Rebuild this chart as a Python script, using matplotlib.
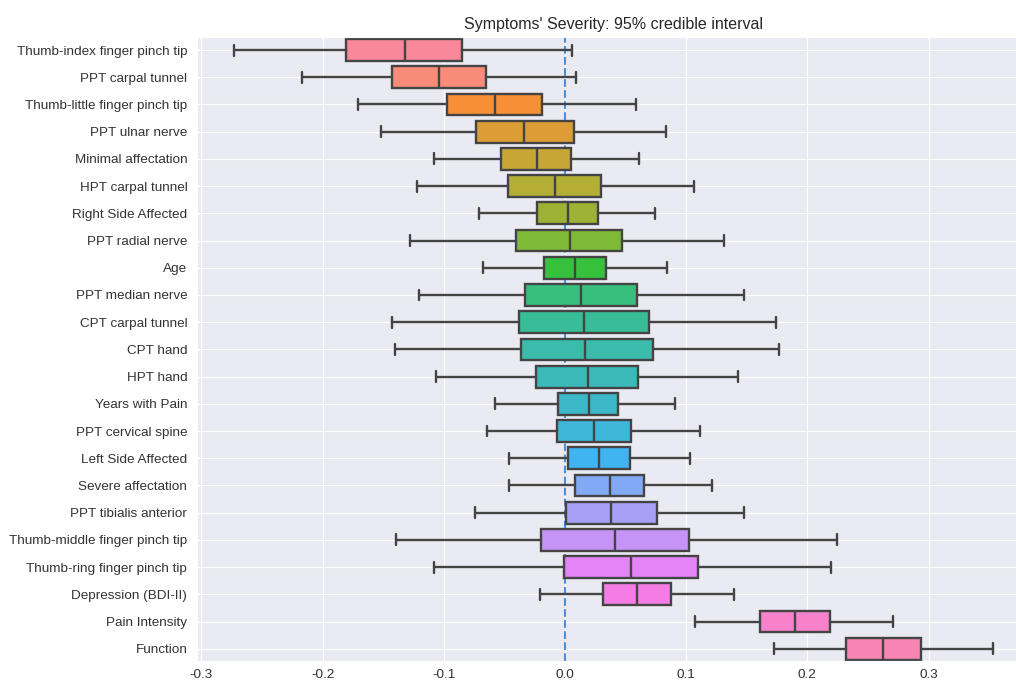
import matplotlib
matplotlib.use("Agg")
import matplotlib.pyplot as plt
import seaborn as sns

# values: whisker low, q1, median, q3, whisker high
labels = [
    "Thumb-index finger pinch tip", "PPT carpal tunnel", "Thumb-little finger pinch tip",
    "PPT ulnar nerve", "Minimal affectation", "HPT carpal tunnel", "Right Side Affected",
    "PPT radial nerve", "Age", "PPT median nerve", "CPT carpal tunnel", "CPT hand",
    "HPT hand", "Years with Pain", "PPT cervical spine", "Left Side Affected",
    "Severe affectation", "PPT tibialis anterior", "Thumb-middle finger pinch tip",
    "Thumb-ring finger pinch tip", "Depression (BDI-II)", "Pain Intensity", "Function",
]
whis_lo = [-0.273, -0.217, -0.171, -0.1515, -0.108, -0.1224, -0.0707, -0.1276, -0.068,
           -0.1205, -0.1427, -0.1405, -0.1064, -0.0575, -0.0646, -0.046, -0.0465,
           -0.0743, -0.1397, -0.108, -0.0209, 0.107, 0.1724]
q1 = [-0.181, -0.1425, -0.0974, -0.0734, -0.0528, -0.0467, -0.0231, -0.0401, -0.0175,
      -0.0327, -0.038, -0.0366, -0.0237, -0.006, -0.0069, 0.0028, 0.0085, 0.0008,
      -0.02, -0.001, 0.0316, 0.1612, 0.2316]
med = [-0.132, -0.104, -0.058, -0.0336, -0.0228, -0.0085, 0.0028, 0.004, 0.0085,
       0.0132, 0.0157, 0.0168, 0.019, 0.0195, 0.0242, 0.0278, 0.0371, 0.0377,
       0.041, 0.0545, 0.0597, 0.1895, 0.2626]
q3 = [-0.085, -0.065, -0.0187, 0.0077, 0.0052, 0.030, 0.0275, 0.0467, 0.0338,
      0.0597, 0.069, 0.0723, 0.0602, 0.0437, 0.0545, 0.0534, 0.0652, 0.0762,
      0.1026, 0.1097, 0.0872, 0.2184, 0.2935]
whis_hi = [0.006, 0.0088, 0.0586, 0.0833, 0.061, 0.1064, 0.074, 0.131, 0.0839,
           0.1477, 0.1738, 0.1763, 0.1425, 0.091, 0.1114, 0.1031, 0.121, 0.1477,
           0.2242, 0.2192, 0.1394, 0.2709, 0.3534]

sns.set_style("darkgrid")
plt.rcParams["font.family"] = ["Liberation Sans", "DejaVu Sans"]

fig = plt.figure(figsize=(10.16, 6.82), dpi=100)
ax = fig.add_axes([197 / 1016, 1 - 661 / 682, (1029 - 197) / 1016, (661 - 37) / 682])

stats = []
for i in range(len(labels)):
    stats.append({"whislo": whis_lo[i], "q1": q1[i], "med": med[i],
                  "q3": q3[i], "whishi": whis_hi[i], "fliers": []})

# husl palette, a bit lighter than seaborn's default
colors = sns.husl_palette(len(labels), l=0.7)
edge = "#444444"
pos = list(range(len(labels)))
bp = ax.bxp(stats, positions=pos, vert=False, widths=0.8, patch_artist=True,
            showfliers=False,
            boxprops=dict(edgecolor=edge, linewidth=1.7),
            medianprops=dict(color=edge, linewidth=1.7),
            whiskerprops=dict(color=edge, linewidth=1.7),
            capprops=dict(color=edge, linewidth=1.7))
for patch, c in zip(bp["boxes"], colors):
    patch.set_facecolor(c)

ax.axvline(0, color="#4a90e2", linestyle="--", linewidth=1.5, zorder=0.9)

ax.set_yticks(pos)
ax.set_yticklabels(labels)
ax.set_ylim(22.45, -0.48)
ax.set_xlim((197 - 565) / 1212, (1029 - 565) / 1212)
ax.set_xticks([-0.3, -0.2, -0.1, 0.0, 0.1, 0.2, 0.3])
ax.set_xticklabels(["-0.3", "-0.2", "-0.1", "0.0", "0.1", "0.2", "0.3"])
ax.tick_params(axis="y", labelsize=9.7, colors="#333333", pad=3.5)
ax.tick_params(axis="x", labelsize=9.7, colors="#333333", pad=2)
ax.set_title("Symptoms' Severity: 95% credible interval", fontsize=11.5, color="#262626", pad=6)

fig.savefig("out.png", dpi=100)
